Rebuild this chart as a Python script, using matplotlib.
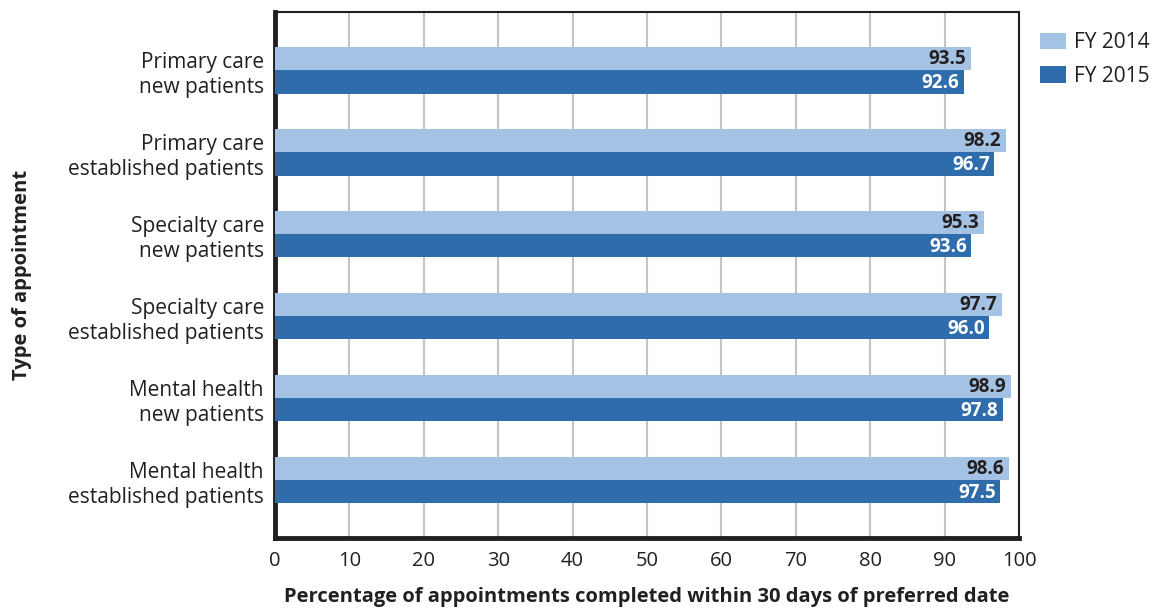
import matplotlib
matplotlib.use("Agg")
import matplotlib.pyplot as plt
import numpy as np

plt.rcParams['font.family'] = ['Open Sans', 'DejaVu Sans']

categories = [
    "Primary care\nnew patients",
    "Primary care\nestablished patients",
    "Specialty care\nnew patients",
    "Specialty care\nestablished patients",
    "Mental health\nnew patients",
    "Mental health\nestablished patients",
]
fy2014 = [93.5, 98.2, 95.3, 97.7, 98.9, 98.6]
fy2015 = [92.6, 96.7, 93.6, 96.0, 97.8, 97.5]
series_labels = ["FY 2014", "FY 2015"]
xticks = list(range(0, 101, 10))

light = "#A4C2E4"
dark = "#2E6CAB"
text_dark = "#231f20"

fig = plt.figure(figsize=(11.59, 6.10), dpi=100)
ax = fig.add_axes([0.2373, 0.118, 0.8792 - 0.2373, 0.980 - 0.118])

y = np.arange(len(categories))
h = 0.285
b1 = ax.barh(y - h / 2, fy2014, height=h, color=light, label=series_labels[0], zorder=3)
b2 = ax.barh(y + h / 2, fy2015, height=h, color=dark, label=series_labels[1], zorder=3)

for rect, v in zip(b1, fy2014):
    ax.text(v - 0.6, rect.get_y() + rect.get_height() / 2 + 0.01, f"{v:.1f}",
            ha="right", va="center", fontsize=13.5, fontweight="bold", color=text_dark, zorder=4)
for rect, v in zip(b2, fy2015):
    ax.text(v - 0.6, rect.get_y() + rect.get_height() / 2 + 0.01, f"{v:.1f}",
            ha="right", va="center", fontsize=13.5, fontweight="bold", color="white", zorder=4)

ax.set_xlim(0, 100)
ax.set_ylim(len(categories) - 1 + 0.707, -0.707)
ax.set_xticks(xticks)
ax.set_xticklabels([str(t) for t in xticks], fontsize=14.5, color=text_dark)
ax.set_yticks(y)
ax.set_yticklabels(categories, fontsize=15, color=text_dark, linespacing=1.25)
ax.tick_params(axis="both", length=0)
ax.tick_params(axis="x", pad=9)
ax.tick_params(axis="y", pad=8)

ax.grid(axis="x", color="#c4c4c4", linewidth=1.5, zorder=0)
ax.set_axisbelow(True)

for side in ["left", "bottom"]:
    ax.spines[side].set_linewidth(3.5)
    ax.spines[side].set_color(text_dark)
for side in ["top", "right"]:
    ax.spines[side].set_linewidth(1.5)
    ax.spines[side].set_color(text_dark)

ax.set_xlabel("Percentage of appointments completed within 30 days of preferred date",
              fontsize=14.5, fontweight="bold", color=text_dark)
ax.xaxis.set_label_coords(0.5, -0.093)
ax.set_ylabel("Type of appointment", fontsize=14.5, fontweight="bold", color=text_dark)
ax.yaxis.set_label_coords(-0.326, 0.5)

leg = ax.legend(loc="upper left", bbox_to_anchor=(1.007, 0.992), frameon=False,
                fontsize=15, handlelength=1.25, handleheight=0.85, handletextpad=0.4,
                labelspacing=0.62, borderaxespad=0.35)
for t in leg.get_texts():
    t.set_color(text_dark)

fig.savefig("out.png", dpi=100)
